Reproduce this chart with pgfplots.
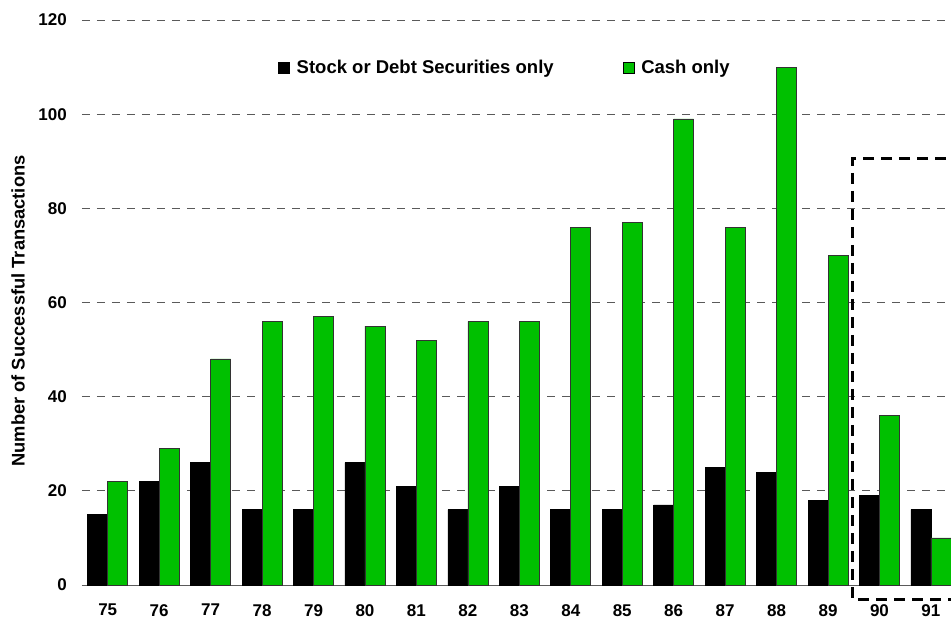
\documentclass[border=0pt]{standalone}
\usepackage{pgfplots}
\pgfplotsset{compat=1.18}
\usepackage{fontspec}
\setmainfont{Liberation Sans}
\definecolor{cashgreen}{RGB}{0,192,0}
\definecolor{gridgray}{RGB}{90,90,90}
\begin{document}
\begin{tikzpicture}
\useasboundingbox (-82pt,-34pt) rectangle (869pt,585pt);
\begin{axis}[
  at={(0pt,0pt)}, anchor=south west,
  scale only axis,
  width=869pt, height=565pt,
  xmin=-0.5, xmax=16.39,
  ymin=0, ymax=120,
  ybar=0pt, bar width=20pt,
  axis line style={draw=none},
  xtick={0,...,16},
  xticklabels={75,76,77,78,79,80,81,82,83,84,85,86,87,88,89,90,91},
  ytick={0,20,...,120},
  major tick length=0pt,
  ymajorgrids,
  grid style={gridgray, dash pattern=on 8pt off 7pt, line width=0.8pt},
  /pgf/number format/assume math mode=true,
  yticklabel style={font=\fontsize{17}{17}\selectfont\bfseries, anchor=east, inner sep=0pt, xshift=-15pt},
  xticklabel style={font=\fontsize{17}{17}\selectfont\bfseries, anchor=north, inner sep=0pt, yshift=-19pt},
  ylabel={Number of Successful Transactions},
  ylabel style={font=\fontsize{18.3}{18.3}\selectfont\bfseries, at={(axis description cs:-0.0736,0.485)}, anchor=center},
  legend columns=2,
  legend style={draw=none, fill=none, at={(axis description cs:0.2255,0.915)}, anchor=west,
    inner sep=0pt, font=\fontsize{18.5}{18.5}\selectfont\bfseries,
    /tikz/every even column/.append style={column sep=69pt},
    nodes={inner sep=0pt, anchor=west}},
  legend image code/.code={\draw[#1, draw=black, line width=0.5pt] (0pt,-5.5pt) rectangle (11pt,5.5pt); \path (18pt,0pt);},
  clip=true,
]
\draw[gridgray, line width=1pt] (axis cs:-0.5,0) -- (axis cs:16.39,0);
\addplot[fill=black, draw=black, line width=0.6pt] coordinates {
(0,15) (1,22) (2,26) (3,16) (4,16) (5,26) (6,21) (7,16) (8,21) (9,16)
(10,16) (11,17) (12,25) (13,24) (14,18) (15,19) (16,16)};
\addplot[fill=cashgreen, draw=black!80, line width=0.6pt] coordinates {
(0,22) (1,29) (2,48) (3,56) (4,57) (5,55) (6,52) (7,56) (8,56) (9,76)
(10,77) (11,99) (12,76) (13,110) (14,70) (15,36) (16,10)};
\legend{Stock or Debt Securities only, Cash only}
\end{axis}
\draw[black, line width=3pt, dash pattern=on 11pt off 7pt]
  (900pt,426pt) -- (770pt,426pt) -- (770pt,-14pt) -- (900pt,-14pt);
\end{tikzpicture}
\end{document}
